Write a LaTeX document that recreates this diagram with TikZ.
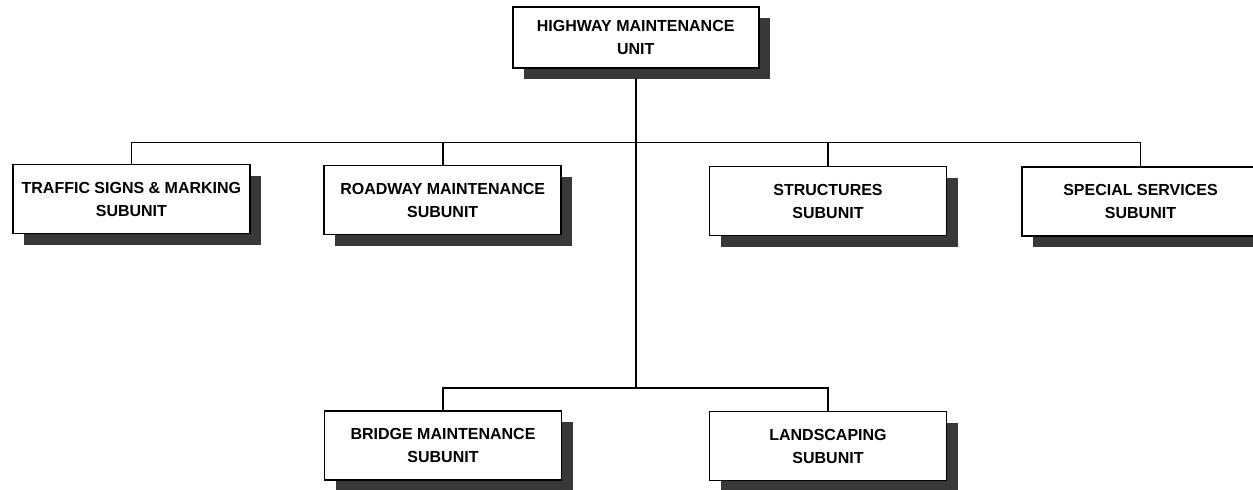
\documentclass[tikz,border=0pt]{standalone}
\usepackage{fontspec}
\setmainfont{Liberation Sans}
\usetikzlibrary{shadows,backgrounds}

\tikzset{
  unitbox/.style={draw, line width=0.9pt, fill=white, align=center,
    minimum width=118.5pt, minimum height=34.5pt, inner sep=0pt,
    font=\bfseries\fontsize{8}{11.5}\selectfont,
    drop shadow={shadow xshift=5.5pt, shadow yshift=-5.5pt, fill=black!78, opacity=1}},
  headbox/.style={unitbox, minimum width=123pt, minimum height=30.5pt},
  link/.style={line width=0.9pt}
}

\begin{document}
\begin{tikzpicture}[x=0.5pt, y=-0.5pt]
  \useasboundingbox (0,0) rectangle (1253,489);
  \clip (0,0) rectangle (1253,489);

  % head of the unit
  \node[headbox] (unit) at (635.7,37.8) {HIGHWAY MAINTENANCE\\UNIT};

  % first row of subunits
  \node[unitbox] (traffic) at (131.4,199) {TRAFFIC SIGNS \& MARKING\\SUBUNIT};
  \node[unitbox] (roadway) at (442.7,200) {ROADWAY MAINTENANCE\\SUBUNIT};
  \node[unitbox] (structures) at (828,201) {STRUCTURES\\SUBUNIT};
  \node[unitbox] (special) at (1140.5,201.3) {SPECIAL SERVICES\\SUBUNIT};

  % second row of subunits
  \node[unitbox] (bridge) at (443,445.5) {BRIDGE MAINTENANCE\\SUBUNIT};
  \node[unitbox] (landscape) at (828,446) {LANDSCAPING\\SUBUNIT};

  \coordinate (bus) at (635.7,142.5);
  \coordinate (lowbus) at (635.7,388);

  % connectors
  \begin{scope}[on background layer]
    \draw[link] (unit.south) -- (lowbus);
    \draw[link] (traffic.north) |- (bus) -| (special.north);
    \draw[link] (roadway.north) -- (roadway.north |- bus);
    \draw[link] (structures.north) -- (structures.north |- bus);
    \draw[link] (bridge.north) |- (lowbus) -| (landscape.north);
  \end{scope}
\end{tikzpicture}
\end{document}
